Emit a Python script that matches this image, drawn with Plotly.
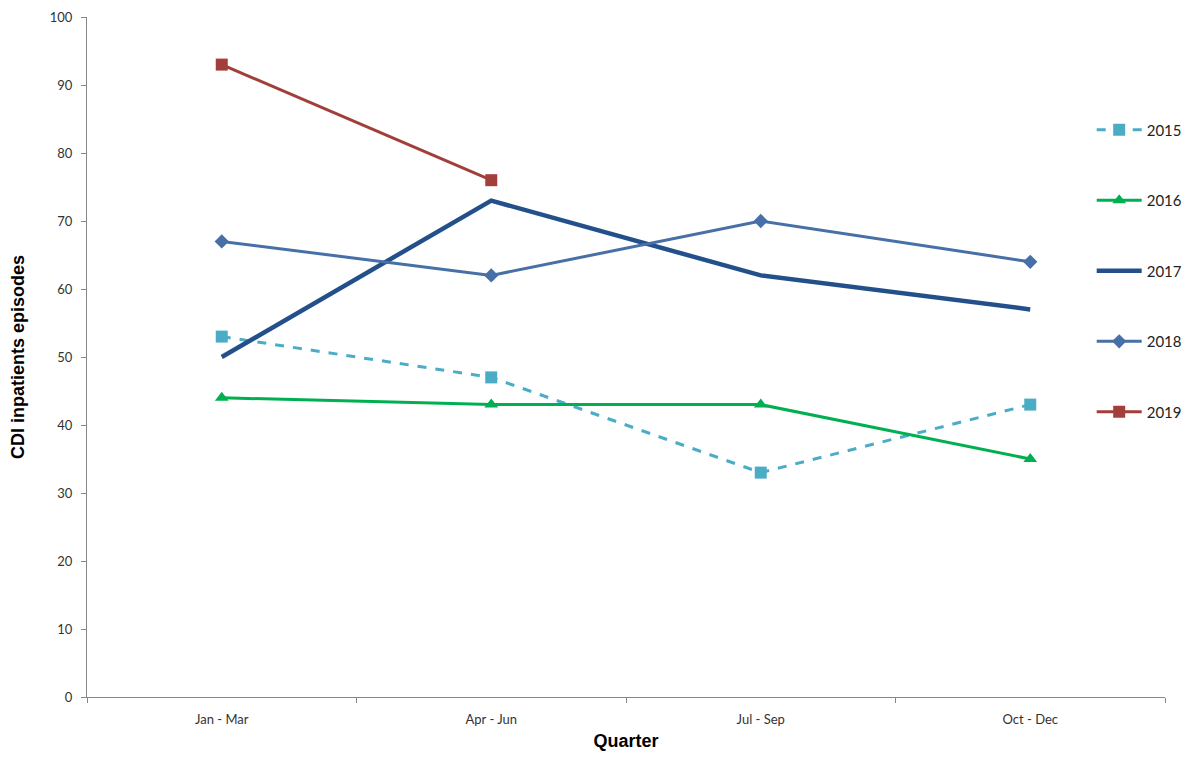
import plotly.graph_objects as go

quarters = ["Jan - Mar", "Apr - Jun", "Jul - Sep", "Oct - Dec"]
y2015 = [53, 47, 33, 43]
y2016 = [44, 43, 43, 35]
y2017 = [50, 73, 62, 57]
y2018 = [67, 62, 70, 64]
y2019 = [93, 76]

series = [
    ("2015", y2015, "#4BACC6", 3, "dash", "square", 12),
    ("2016", y2016, "#00B050", 3, "solid", "triangle-up", 12),
    ("2017", y2017, "#23508A", 4.5, "solid", None, 0),
    ("2018", y2018, "#4670A6", 3, "solid", "diamond", 11),
    ("2019", y2019, "#A23F3B", 3, "solid", "square", 12),
]

fig = go.Figure()
for name, ys, color, w, dash, sym, msize in series:
    fig.add_trace(go.Scatter(
        x=quarters[:len(ys)], y=ys, name=name,
        mode="lines+markers" if sym else "lines",
        line=dict(color=color, width=w, dash=dash),
        marker=dict(symbol=sym or "circle", size=msize, color=color),
        legendgroup=name,
    ))

axis_font = dict(family="Lato, Carlito, sans-serif", size=13, color="#333333")
fig.update_layout(
    width=1196, height=758,
    paper_bgcolor="white", plot_bgcolor="white",
    margin=dict(l=79, r=39, t=9, b=69),
    showlegend=True,
    legend=dict(x=0.932, y=0.858, xanchor="left", yanchor="top",
                bgcolor="rgba(0,0,0,0)", tracegroupgap=48, itemwidth=45,
                font=dict(family="Lato, Carlito, sans-serif", size=15, color="#222222")),
    xaxis=dict(type="category", categoryorder="array", categoryarray=quarters,
               range=[-0.5, 3.5], tickson="boundaries", ticks="outside", ticklen=5,
               tickcolor="#868686", showline=True, linecolor="#868686", linewidth=1,
               showgrid=False, zeroline=False, tickfont=axis_font, automargin=False,
               ticklabelstandoff=10,
               title=dict(text="<b>Quarter</b>", standoff=8,
                          font=dict(family="Liberation Sans, Arial", size=18, color="#000000"))),
    yaxis=dict(range=[0, 100], dtick=10, ticks="outside", ticklen=5,
               tickcolor="#868686", showline=True, linecolor="#868686", linewidth=1,
               showgrid=False, zeroline=False, tickfont=axis_font, automargin=False,
               ticklabelstandoff=6,
               title=dict(text="<b>CDI inpatients episodes</b>", standoff=20,
                          font=dict(family="Liberation Sans, Arial", size=18, color="#000000"))),
)

fig.write_html("out.html")
